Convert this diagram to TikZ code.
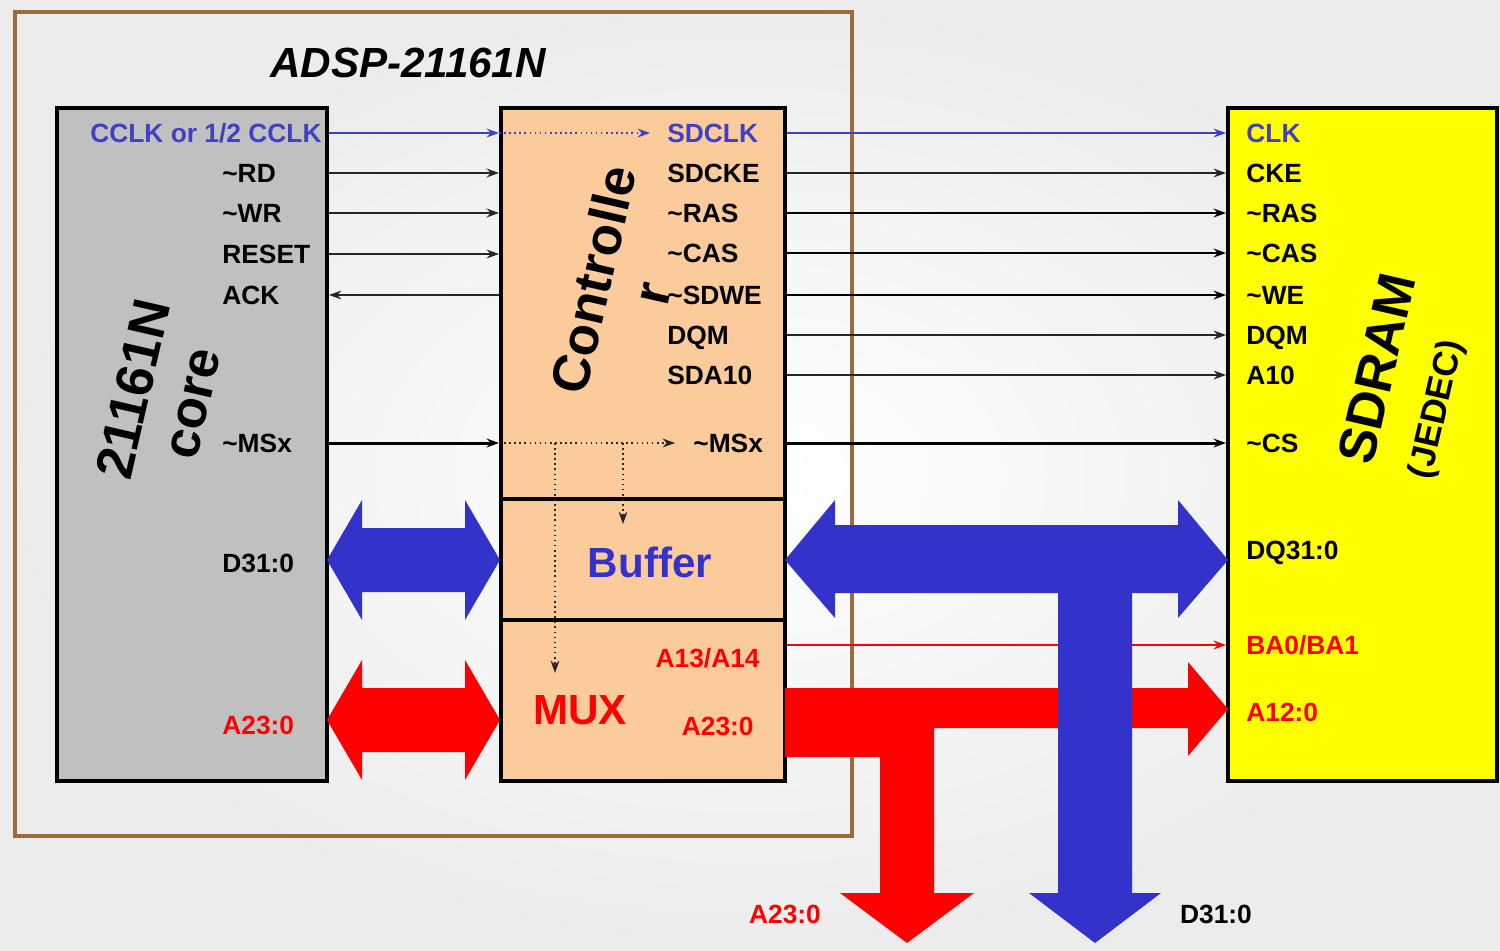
\documentclass[tikz,border=0pt]{standalone}
\usepackage{fontspec}
\setmainfont{Liberation Sans}
\usetikzlibrary{positioning,arrows.meta,calc,fit}
\definecolor{dspBrown}{HTML}{9C6A3C}
\definecolor{dspGray}{HTML}{C0C0C0}
\definecolor{dspPeach}{HTML}{FBCB9C}
\definecolor{dspYellow}{HTML}{FFFF00}
\definecolor{dspBlue}{HTML}{3333CC}
\definecolor{dspBlueT}{HTML}{4040C4}
\definecolor{dspRed}{HTML}{FF0000}
\definecolor{dspBg}{HTML}{ECECEC}
\newcommand{\negs}{\textasciitilde}
\tikzset{
  dsp-box/.style={draw=black, line width=2.3pt, inner sep=0pt},
  dsp-core/.style={dsp-box, fill=dspGray},
  dsp-ctrl/.style={dsp-box, fill=dspPeach},
  dsp-sdram/.style={dsp-box, fill=dspYellow},
  dsp-pin/.style={font=\fontsize{15}{17}\selectfont\bfseries, inner sep=0pt,
    anchor=west, text depth=0pt},
  dsp-big/.style={font=\fontsize{24}{26}\selectfont\bfseries},
  dsp-title/.style={font=\fontsize{30}{34}\selectfont\bfseries, rotate=77,
    align=center, inner sep=0pt},
  dsp-sig/.style={-{Stealth[length=7pt,width=5pt]}, line width=0.9pt,
    draw=black!85},
  dsp-sig-b/.style={dsp-sig, line width=1.7pt, draw=black},
  dsp-dot/.style={dsp-sig, dotted, line width=0.8pt},
  dsp-bus-b/.style={fill=dspBlue, draw=none},
  dsp-bus-r/.style={fill=dspRed, draw=none}
}
\begin{document}
\begin{tikzpicture}[x=0.02cm, y=-0.02cm]
\useasboundingbox (0,0) rectangle (1500,950);
\shade[inner color=white, outer color=dspBg] (0,0) rectangle (1500,950);

% chip outline
\draw[dspBrown, line width=2.8pt] (15,12) rectangle (852,836);
\node[font=\fontsize{24}{28}\selectfont\bfseries\itshape] (chip) at (408,63)
  {ADSP-21161N};

% blocks
\node[dsp-core, fit={(57,108) (327,781)}] (core) {};
\node[dsp-ctrl, fit={(501,108) (785,499)}] (ctrl) {};
\node[dsp-ctrl, fit={(501,499) (785,620)}] (buf) {};
\node[dsp-ctrl, fit={(501,620) (785,781)}] (mux) {};
\node[dsp-sdram, fit={(1228,108) (1497,781)}] (sdram) {};

\node[dsp-title] (coretitle) at (162,396) {21161N\\core};
\node[dsp-title] (ctrltitle) at (622,286) {Controlle\\r};
\node[dsp-title, align=left] (sdramtitle) at (1409,376)
  {SDRAM\\{\fontsize{20}{22}\selectfont(JEDEC)}};
\node[dsp-big, text=dspBlue] (buftxt) at (650,562) {Buffer};
\node[dsp-big, text=dspRed] (muxtxt) at (580,710) {MUX};

% core pins
\node[dsp-pin, anchor=east, text=dspBlueT] (cclk) at (322,133) {CCLK or 1/2 CCLK};
\node[dsp-pin] (rd) at (222,173) {\negs RD};
\node[dsp-pin] (wr) at (222,213) {\negs WR};
\node[dsp-pin] (reset) at (222,254) {RESET};
\node[dsp-pin] (ack) at (222,295) {ACK};
\node[dsp-pin] (msxc) at (222,443) {\negs MSx};
\node[dsp-pin] (dcore) at (222,563) {D31:0};
\node[dsp-pin, text=dspRed] (acore) at (222,725) {A23:0};

% controller pins
\node[dsp-pin, text=dspBlueT] (sdclk) at (667,133) {SDCLK};
\node[dsp-pin] (sdcke) at (667,173) {SDCKE};
\node[dsp-pin] (ras) at (667,213) {\negs RAS};
\node[dsp-pin] (cas) at (667,253) {\negs CAS};
\node[dsp-pin] (sdwe) at (667,295) {\negs SDWE};
\node[dsp-pin] (dqm) at (667,335) {DQM};
\node[dsp-pin] (sda10) at (667,375) {SDA10};
\node[dsp-pin] (msxo) at (693,443) {\negs MSx};
\node[dsp-pin, anchor=east, text=dspRed] (a1314) at (760,658) {A13/A14};
\node[dsp-pin, anchor=east, text=dspRed] (amux) at (754,726) {A23:0};

% sdram pins
\node[dsp-pin, text=dspBlueT] (clk) at (1246,133) {CLK};
\node[dsp-pin] (cke) at (1246,173) {CKE};
\node[dsp-pin] (sras) at (1246,213) {\negs RAS};
\node[dsp-pin] (scas) at (1246,253) {\negs CAS};
\node[dsp-pin] (swe) at (1246,295) {\negs WE};
\node[dsp-pin] (sdqm) at (1246,335) {DQM};
\node[dsp-pin] (sa10) at (1246,375) {A10};
\node[dsp-pin] (scs) at (1246,443) {\negs CS};
\node[dsp-pin] (dq) at (1246,550) {DQ31:0};
\node[dsp-pin, text=dspRed] (ba) at (1246,645) {BA0/BA1};
\node[dsp-pin, text=dspRed] (a12) at (1246,712) {A12:0};

% buses
\fill[dsp-bus-b] (327,560) -- (362,500) -- (362,528) -- (465,528) -- (465,500)
  -- (500,560) -- (465,620) -- (465,592) -- (362,592) -- (362,620) -- cycle;
\fill[dsp-bus-r] (327,720) -- (362,660) -- (362,688) -- (465,688) -- (465,660)
  -- (500,720) -- (465,780) -- (465,752) -- (362,752) -- (362,780) -- cycle;
\fill[dsp-bus-r] (785,688) -- (1188,688) -- (1188,662) -- (1228,709)
  -- (1188,756) -- (1188,728) -- (934,728) -- (934,893) -- (974,893)
  -- (907,943) -- (840,893) -- (880,893) -- (880,757) -- (785,757) -- cycle;
\draw[dsp-sig, draw=dspRed, line width=1.2pt] (mux.east |- ba) -- (sdram.west |- ba);
\fill[dsp-bus-b] (785,560) -- (835,500) -- (835,525) -- (1178,525)
  -- (1178,500) -- (1228,560) -- (1178,618) -- (1178,593) -- (1132,593)
  -- (1132,893) -- (1161,893) -- (1095,943) -- (1029,893) -- (1058,893)
  -- (1058,593) -- (835,593) -- (835,618) -- cycle;
\node[dsp-pin, anchor=center, text=dspRed] (aout) at (785,914) {A23:0};
\node[dsp-pin, anchor=center] (dout) at (1216,914) {D31:0};

% core -> controller
\draw[dsp-sig, draw=dspBlueT, line width=0.8pt] (core.east |- cclk) -- (ctrl.west |- cclk);
\draw[dsp-dot, draw=dspBlueT] (ctrl.west |- cclk) -- ($(sdclk.west)+(-17,0)$);
\draw[dsp-sig, line width=1.2pt] (core.east |- rd) -- (ctrl.west |- rd);
\draw[dsp-sig, line width=1.2pt] (core.east |- wr) -- (ctrl.west |- wr);
\draw[dsp-sig] (core.east |- reset) -- (ctrl.west |- reset);
\draw[dsp-sig] (ctrl.west |- ack) -- (core.east |- ack);
\draw[dsp-sig-b] (core.east |- msxc) -- (ctrl.west |- msxc);
\draw[dsp-dot] (ctrl.west |- msxc) -- ($(msxo.west)+(-18,0)$);
\coordinate (tapbuf) at (623,443);
\coordinate (tapmux) at (555,443);
\coordinate (bufin) at (623,524);
\coordinate (muxin) at (555,673);
\draw[dsp-dot] (tapbuf) -- (bufin);
\draw[dsp-dot] (tapmux) -- (muxin);

% controller -> sdram
\draw[dsp-sig, draw=dspBlueT, line width=0.8pt] (ctrl.east |- sdclk) -- (sdram.west |- clk);
\draw[dsp-sig] (ctrl.east |- sdcke) -- (sdram.west |- cke);
\draw[dsp-sig-b] (ctrl.east |- ras) -- (sdram.west |- sras);
\draw[dsp-sig-b] (ctrl.east |- cas) -- (sdram.west |- scas);
\draw[dsp-sig-b] (ctrl.east |- sdwe) -- (sdram.west |- swe);
\draw[dsp-sig] (ctrl.east |- dqm) -- (sdram.west |- sdqm);
\draw[dsp-sig] (ctrl.east |- sda10) -- (sdram.west |- sa10);
\draw[dsp-sig-b] (ctrl.east |- msxo) -- (sdram.west |- scs);
\end{tikzpicture}
\end{document}
